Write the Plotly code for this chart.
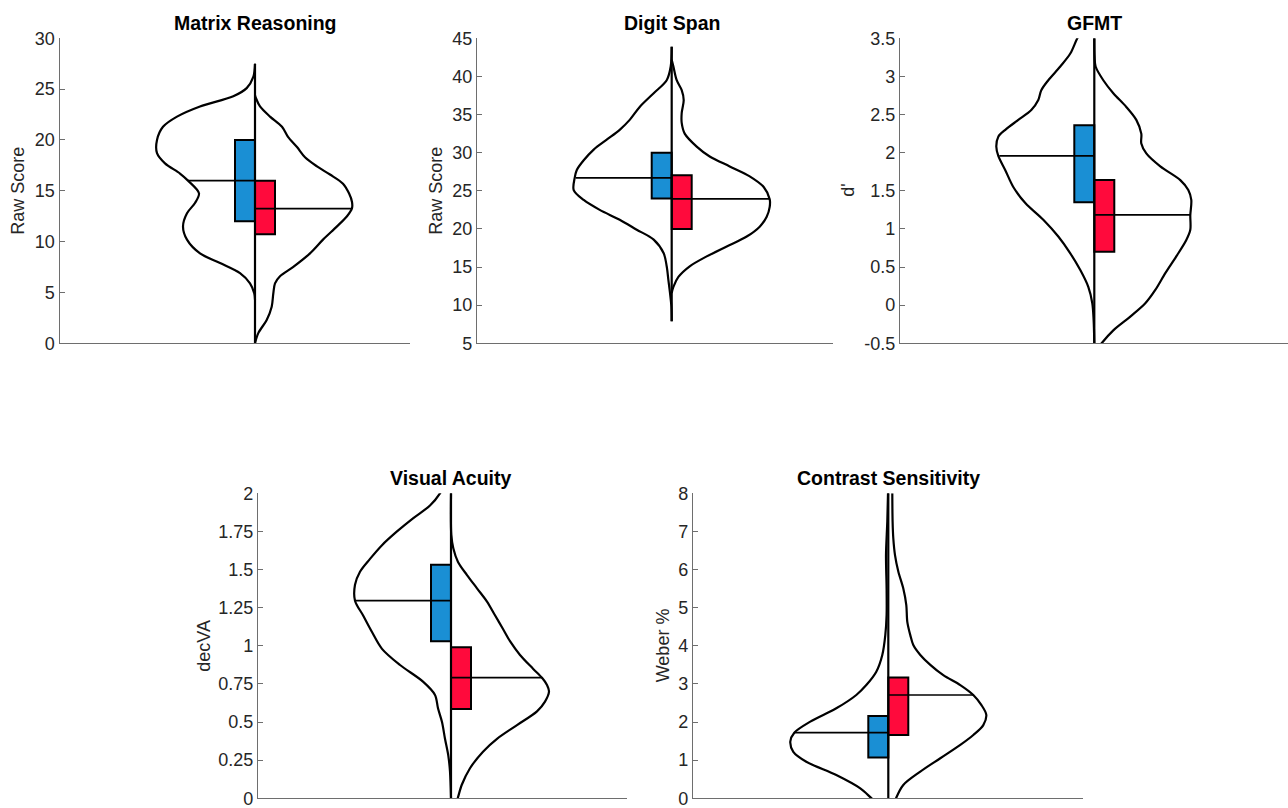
import plotly.graph_objects as go

# ---------------- data ----------------
titles = ["Matrix Reasoning", "Digit Span", "GFMT", "Visual Acuity", "Contrast Sensitivity"]
ylabels = ["Raw Score", "Raw Score", "d'", "decVA", "Weber %"]

yranges = [[0, 30], [5, 45], [-0.5, 3.5], [0, 2], [0, 8]]
tickvals_mr = [0, 5, 10, 15, 20, 25, 30]
ticktext_mr = ["0", "5", "10", "15", "20", "25", "30"]
tickvals_ds = [5, 10, 15, 20, 25, 30, 35, 40, 45]
ticktext_ds = ["5", "10", "15", "20", "25", "30", "35", "40", "45"]
tickvals_gf = [-0.5, 0, 0.5, 1, 1.5, 2, 2.5, 3, 3.5]
ticktext_gf = ["-0.5", "0", "0.5", "1", "1.5", "2", "2.5", "3", "3.5"]
tickvals_va = [0, 0.25, 0.5, 0.75, 1, 1.25, 1.5, 1.75, 2]
ticktext_va = ["0", "0.25", "0.5", "0.75", "1", "1.25", "1.5", "1.75", "2"]
tickvals_cs = [0, 1, 2, 3, 4, 5, 6, 7, 8]
ticktext_cs = ["0", "1", "2", "3", "4", "5", "6", "7", "8"]

# violin outlines: value (y) and half-width (density, drawn in px units)
mr_left_y = [27.5, 26.2, 25.1, 24.3, 23.3, 22.3, 21.3, 20.0, 18.7, 17.7, 16.7, 16.0, 14.75, 13.8, 12.8, 11.5, 10.2, 8.85, 7.9, 6.9, 5.9, 4.9, 4.3]
mr_left_w = [0, 1.7, 8.3, 21.7, 55, 78, 92, 98, 98, 90, 75, 67, 56, 60, 68, 72, 68, 55, 35, 15, 5, 0.7, 0]
mr_right_y = [0, 1.0, 2.3, 3.6, 4.9, 5.9, 6.6, 7.5, 8.85, 10.2, 11.5, 12.5, 13.3, 13.9, 14.75, 15.7, 16.6, 17.4, 18.3, 19.3, 20.3, 21.3, 22.3, 23.3, 24.1, 24.4]
mr_right_w = [0, 3.3, 11.7, 16.7, 18.3, 20, 25, 38, 55, 68, 82, 92, 97, 97, 94, 88, 75, 62, 50, 42, 33, 27, 15, 5, 1, 0]

ds_left_y = [43.9, 41.3, 39.5, 37.8, 36.0, 34.3, 33.0, 31.7, 30.4, 29.0, 27.7, 26.7, 25.1, 23.8, 22.5, 21.2, 19.9, 18.6, 16.8, 15.1, 13.3, 11.6, 9.8, 7.9]
ds_left_w = [0, 1, 5, 18, 32, 42, 52, 65, 78, 88, 95, 97, 98, 88, 72, 52, 35, 18, 8, 5, 3.3, 1.7, 0.3, 0]
ds_right_y = [11.6, 12.4, 13.7, 15.1, 16.4, 17.7, 19.0, 20.3, 21.6, 22.9, 23.9, 25.5, 26.9, 28.2, 29.5, 30.8, 32.5, 33.9, 35.2, 36.9, 38.2, 39.5, 41.3, 42.2]
ds_right_w = [0, 1.7, 6.7, 18, 35, 55, 75, 88, 95, 98, 98, 92, 78, 58, 38, 25, 13, 10, 10, 12, 10, 5, 1.7, 0]

gf_left_y = [3.75, 3.5, 3.30, 3.13, 2.95, 2.82, 2.69, 2.56, 2.43, 2.30, 2.21, 2.08, 1.957, 1.77, 1.55, 1.34, 1.12, 0.90, 0.68, 0.46, 0.24, 0.025, -0.19, -0.5]
gf_left_w = [6, 17, 24, 34, 46, 53, 56, 63, 76, 89, 96, 98, 96, 89, 81, 69, 51, 36, 24, 14, 6, 2, 0.7, 0]
gf_right_y = [-0.6, -0.5, -0.33, -0.15, 0.025, 0.2, 0.42, 0.64, 0.855, 0.99, 1.18, 1.38, 1.51, 1.64, 1.82, 1.99, 2.12, 2.25, 2.43, 2.6, 2.78, 2.95, 3.13, 3.26, 3.5]
gf_right_w = [2, 7.3, 19, 36, 51, 61, 71, 82, 92, 96, 96, 97, 94, 86, 66, 52, 47, 47, 42, 32, 19, 9, 1.3, 0.3, 0]

va_left_y = [2.08, 2.0, 1.92, 1.836, 1.75, 1.66, 1.57, 1.486, 1.40, 1.296, 1.20, 1.09, 0.98, 0.874, 0.765, 0.678, 0.59, 0.50, 0.39, 0.28, 0.175, 0]
va_left_w = [5, 11, 21, 38, 54, 69, 81, 91, 96, 96, 88, 79, 69, 51, 28, 16, 13, 9, 6, 2.7, 1, 0]
va_right_y = [-0.05, 0, 0.087, 0.197, 0.306, 0.39, 0.48, 0.57, 0.634, 0.70, 0.743, 0.79, 0.85, 0.94, 1.03, 1.11, 1.20, 1.29, 1.377, 1.464, 1.55, 1.64, 1.727, 2.0]
va_right_w = [4, 6.7, 10.7, 19, 32, 46, 66, 86, 94, 98, 96, 91, 82, 69, 59, 52, 44, 36, 26, 16, 7, 2.3, 0.3, 0]

cs_left_y = [-0.15, 0, 0.26, 0.61, 0.96, 1.22, 1.49, 1.72, 2.01, 2.36, 2.71, 2.97, 3.32, 3.76, 4.28, 4.81, 5.5, 6.38, 7.26, 8.0]
cs_left_w = [10, 16.7, 28, 52, 82, 95, 98, 94, 78, 52, 32, 22, 12, 6, 3, 1.7, 1.7, 2.3, 1, 0.3]
cs_right_y = [0, 0.35, 0.70, 1.05, 1.40, 1.66, 1.92, 2.19, 2.45, 2.71, 2.97, 3.23, 3.50, 3.76, 4.02, 4.28, 4.63, 5.07, 5.5, 5.95, 6.38, 6.82, 7.26, 8.0]
cs_right_w = [7.7, 15, 32, 52, 72, 85, 95, 98, 93, 85, 72, 55, 42, 32, 25, 22, 19, 18, 15, 10, 6.7, 5, 4.3, 4]

# central spine extent of each violin pair
spine_lo = [0, 7.9, -0.5, 0, 0]
spine_hi = [27.5, 43.9, 3.5, 2, 8]

# box statistics: [q1, median, q3] for group 1 (blue) and group 2 (red)
blue_q1 = [12, 24, 1.35, 1.03, 1.07]
blue_med = [16, 26.7, 1.957, 1.296, 1.72]
blue_q3 = [20, 30, 2.36, 1.532, 2.16]
red_q1 = [10.72, 20, 0.70, 0.585, 1.66]
red_med = [13.25, 23.95, 1.183, 0.791, 2.71]
red_q3 = [16, 27.05, 1.642, 0.99, 3.17]

# density (half-width) of each violin at its median
blue_med_w = [67, 96, 95, 96, 94]
red_med_w = [97, 98, 96, 91, 85]

# ---------------- layout / style ----------------
W, H = 1288, 808
BLUE = "#1A8FD4"
RED = "#FF0A3C"
AX = "#6e6e6e"
TXT = "#262626"
FONT = "Liberation Sans, Arial, sans-serif"
BOX_W = 20

# pixel geometry of the five axes: left, right, top, bottom, center line
geom = [
    (59.5, 410, 38.3, 343.3, 255.0),
    (477, 833, 38.3, 343.3, 671.7),
    (900, 1288, 38.3, 343.3, 1094.3),
    (258, 627, 493.3, 798.3, 451.0),
    (693, 1083, 493.3, 798.3, 888.3),
]
ylabel_x = [18, 436, 848, 204, 662.5]

left_y = [mr_left_y, ds_left_y, gf_left_y, va_left_y, cs_left_y]
left_w = [mr_left_w, ds_left_w, gf_left_w, va_left_w, cs_left_w]
right_y = [mr_right_y, ds_right_y, gf_right_y, va_right_y, cs_right_y]
right_w = [mr_right_w, ds_right_w, gf_right_w, va_right_w, cs_right_w]
tickvals = [tickvals_mr, tickvals_ds, tickvals_gf, tickvals_va, tickvals_cs]
ticktext = [ticktext_mr, ticktext_ds, ticktext_gf, ticktext_va, ticktext_cs]

fig = go.Figure()
annotations = []
layout = {}

for i in range(5):
    n = "" if i == 0 else str(i + 1)
    xa, ya = "x" + n, "y" + n
    L, R, T, B, C = geom[i]

    # boxes
    fig.add_trace(go.Bar(x=[-BOX_W / 2], y=[blue_q3[i] - blue_q1[i]], base=[blue_q1[i]], width=[BOX_W],
                         marker=dict(color=BLUE, line=dict(color="black", width=2)),
                         xaxis=xa, yaxis=ya, showlegend=False, hoverinfo="skip"))
    fig.add_trace(go.Bar(x=[BOX_W / 2], y=[red_q3[i] - red_q1[i]], base=[red_q1[i]], width=[BOX_W],
                         marker=dict(color=RED, line=dict(color="black", width=2)),
                         xaxis=xa, yaxis=ya, showlegend=False, hoverinfo="skip"))
    # violin outlines
    fig.add_trace(go.Scatter(x=[-w for w in left_w[i]], y=left_y[i], mode="lines",
                             line=dict(color="black", width=2.2, shape="spline", smoothing=0.9),
                             xaxis=xa, yaxis=ya, showlegend=False, hoverinfo="skip"))
    fig.add_trace(go.Scatter(x=right_w[i], y=right_y[i], mode="lines",
                             line=dict(color="black", width=2.2, shape="spline", smoothing=0.9),
                             xaxis=xa, yaxis=ya, showlegend=False, hoverinfo="skip"))
    # center spine
    fig.add_trace(go.Scatter(x=[0, 0], y=[spine_lo[i], spine_hi[i]], mode="lines",
                             line=dict(color="black", width=2.2),
                             xaxis=xa, yaxis=ya, showlegend=False, hoverinfo="skip"))
    # medians
    fig.add_trace(go.Scatter(x=[-blue_med_w[i], 0], y=[blue_med[i], blue_med[i]], mode="lines",
                             line=dict(color="black", width=1.7),
                             xaxis=xa, yaxis=ya, showlegend=False, hoverinfo="skip"))
    fig.add_trace(go.Scatter(x=[0, red_med_w[i]], y=[red_med[i], red_med[i]], mode="lines",
                             line=dict(color="black", width=1.7),
                             xaxis=xa, yaxis=ya, showlegend=False, hoverinfo="skip"))

    layout["xaxis" + n] = dict(domain=[L / W, R / W], range=[L - C, R - C], anchor=ya,
                               showline=True, linecolor=AX, linewidth=1.2, showticklabels=False,
                               ticks="", showgrid=False, zeroline=False, fixedrange=True,
                               automargin=False)
    layout["yaxis" + n] = dict(domain=[1 - B / H, 1 - T / H], range=yranges[i], anchor=xa,
                               showline=True, linecolor=AX, linewidth=1.2, ticks="inside", ticklen=5,
                               tickcolor=AX, tickvals=tickvals[i], ticktext=ticktext[i],
                               tickfont=dict(family=FONT, size=18, color=TXT),
                               ticklabeloverflow="allow",
                               showgrid=False, zeroline=False, fixedrange=True, automargin=False)
    annotations.append(dict(text="<b>" + titles[i] + "</b>", x=0, xref=xa, y=1 - (T - 15.5) / H,
                            yref="paper", xanchor="center", yanchor="middle", showarrow=False,
                            font=dict(family=FONT, size=19.5, color="black")))
    annotations.append(dict(text=ylabels[i], x=ylabel_x[i] / W, xref="paper", y=1 - (T + B) / 2 / H,
                            yref="paper", xanchor="center", yanchor="middle", textangle=-90,
                            showarrow=False, font=dict(family=FONT, size=18, color=TXT)))

fig.update_layout(**layout)
fig.update_layout(width=W, height=H, margin=dict(l=0, r=0, t=0, b=0, pad=0, autoexpand=False),
                  plot_bgcolor="white", paper_bgcolor="white", barmode="overlay",
                  annotations=annotations, showlegend=False)
fig.write_html("out.html", config={"displayModeBar": False})
